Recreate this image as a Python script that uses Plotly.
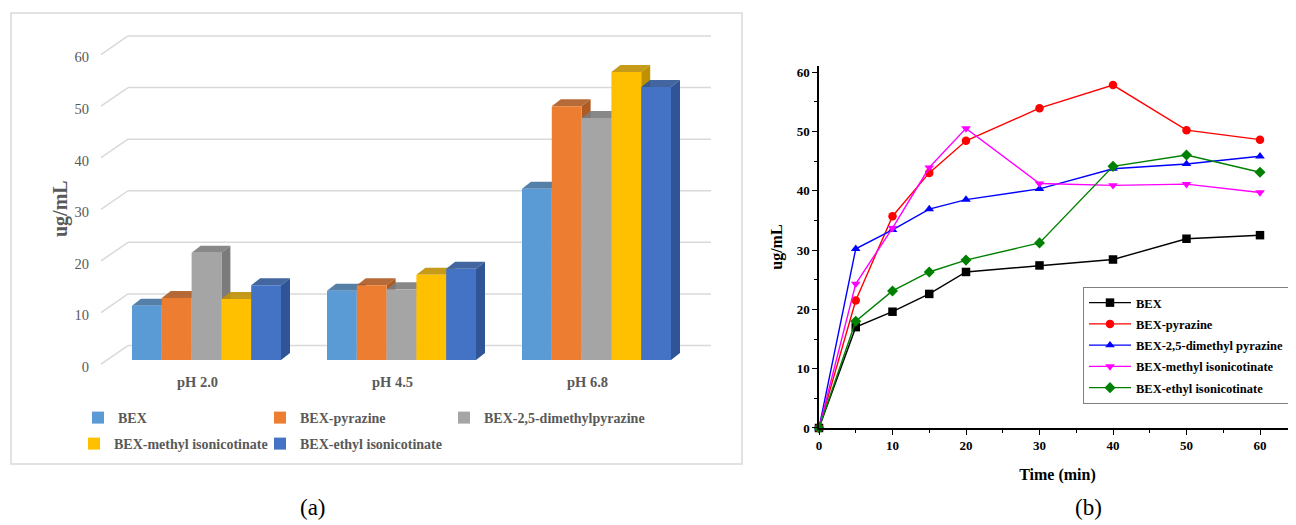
import plotly.graph_objects as go

# ---------------- data ----------------
ph_levels = ["pH 2.0", "pH 4.5", "pH 6.8"]
bar_series = ["BEX", "BEX-pyrazine", "BEX-2,5-dimethylpyrazine",
              "BEX-methyl isonicotinate", "BEX-ethyl isonicotinate"]
bex_ph = [10.5, 13.4, 33.2]
pyrazine_ph = [12.0, 14.5, 49.2]
dimethyl_ph = [20.8, 13.7, 46.9]
methyl_ph = [11.8, 16.5, 55.8]
ethyl_ph = [14.5, 17.7, 52.9]
bar_values = [bex_ph, pyrazine_ph, dimethyl_ph, methyl_ph, ethyl_ph]

time_min = [0, 5, 10, 15, 20, 30, 40, 50, 60]
line_series = ["BEX", "BEX-pyrazine", "BEX-2,5-dimethyl pyrazine",
               "BEX-methyl isonicotinate", "BEX-ethyl isonicotinate"]
bex_t = [0, 17.0, 19.6, 22.6, 26.3, 27.4, 28.4, 31.9, 32.5]
pyrazine_t = [0, 21.5, 35.7, 43.0, 48.4, 53.9, 57.8, 50.2, 48.6]
dimethyl_t = [0, 30.2, 33.4, 36.9, 38.5, 40.3, 43.7, 44.5, 45.8]
methyl_t = [0, 24.3, 33.7, 43.9, 50.5, 41.2, 40.9, 41.1, 39.7]
ethyl_t = [0, 18.0, 23.1, 26.3, 28.3, 31.2, 44.1, 46.0, 43.1]
line_values = [bex_t, pyrazine_t, dimethyl_t, methyl_t, ethyl_t]

y_ticks = [0, 10, 20, 30, 40, 50, 60]
x_ticks_time = [0, 10, 20, 30, 40, 50, 60]
x_minor = [5, 15, 25, 35, 45, 55]

# ---------------- styles / layout constants ----------------
PAGE_OFF = 8                      # default body margin of the html page
W, H = 1296 - PAGE_OFF, 525 - PAGE_OFF
bar_colors = ["#5B9BD5", "#ED7D31", "#A5A5A5", "#FFC000", "#4472C4"]
bar_dark = ["#41719C", "#AE5A21", "#7B7B7B", "#BF9000", "#2F5597"]
line_colors = ["#000000", "#FF0000", "#0000FF", "#FF00FF", "#008000"]
line_symbols = ["square", "circle", "triangle-up", "triangle-down", "diamond"]
SERIF = "Liberation Serif"
GREY = "#595959"


def px_x(p):
    """page pixel -> paper fraction"""
    return (p - PAGE_OFF) / W


def px_y(p):
    return (H - (p - PAGE_OFF)) / H


# left panel geometry (page pixels)
cat0_px, cat_step_px = 206.5, 195.0
y0_px, y_unit_px = 360.0, 5.16
lx_range = [(95 - cat0_px) / cat_step_px, (715 - cat0_px) / cat_step_px]
ly_range = [-1.5, 63.5]
ldom_x = [px_x(95), px_x(715)]
ldom_y = [px_y(y0_px - ly_range[0] * y_unit_px), px_y(y0_px - ly_range[1] * y_unit_px)]

bar_w = 29.8 / cat_step_px
depth_dx = 9.0 / cat_step_px
depth_dy = 7.0 / y_unit_px
grid_dy = 2.8
diag_x0 = (101 - cat0_px) / cat_step_px
grid_x0 = (128 - cat0_px) / cat_step_px
grid_x1 = (711 - cat0_px) / cat_step_px

# left legend entry placement (page pixels of text start, row centre)
leg_text_x = [118, 300, 484, 114, 300]
leg_row_y = [418, 418, 418, 444, 444]

# right panel geometry
r_x0_px, r_unit_x = 819.0, 441.0 / 60
r_y0_px, r_unit_y = 428.0, 5.933
rx_range = [0, (W + PAGE_OFF - r_x0_px) / r_unit_x]
ry_range = [0, 61]
rdom_x = [px_x(r_x0_px), 1.0]
rdom_y = [px_y(r_y0_px), px_y(r_y0_px - ry_range[1] * r_unit_y)]

fig = go.Figure()

# ---------------- left: bars ----------------
cat_pos = list(range(len(ph_levels)))
n = len(bar_series)
left_legend_names = ["legend", "legend3", "legend4", "legend5", "legend6"]
for i, (name, vals) in enumerate(zip(bar_series, bar_values)):
    off = -n * bar_w / 2 + i * bar_w
    fig.add_trace(go.Bar(
        x=cat_pos, y=vals, name=name, width=bar_w, offset=off,
        marker=dict(color=bar_colors[i], line=dict(width=0)),
        xaxis="x", yaxis="y", legend=left_legend_names[i],
    ))

shapes = []
# back-wall gridlines with their perspective stubs
for v in y_ticks:
    shapes.append(dict(type="line", xref="x", yref="y", layer="below",
                       x0=diag_x0, y0=v - 0.8, x1=grid_x0, y1=v + grid_dy,
                       line=dict(color="#D9D9D9", width=1.5)))
    shapes.append(dict(type="line", xref="x", yref="y", layer="below",
                       x0=grid_x0, y0=v + grid_dy, x1=grid_x1, y1=v + grid_dy,
                       line=dict(color="#D9D9D9", width=1.5)))
# 3D caps and side faces of the bars
for i, vals in enumerate(bar_values):
    off = -n * bar_w / 2 + i * bar_w
    for c, v in zip(cat_pos, vals):
        a = c + off
        b = a + bar_w
        cap = (f"M{a},{v} L{a + depth_dx},{v + depth_dy} "
               f"L{b + depth_dx},{v + depth_dy} L{b},{v} Z")
        side = (f"M{b},0 L{b + depth_dx},{depth_dy} "
                f"L{b + depth_dx},{v + depth_dy} L{b},{v} Z")
        shapes.append(dict(type="path", xref="x", yref="y", layer="below",
                           path=side, fillcolor=bar_dark[i], line=dict(width=0)))
        shapes.append(dict(type="path", xref="x", yref="y", layer="below",
                           path=cap, fillcolor=bar_dark[i], line=dict(width=0),
                           opacity=0.9))
# left panel frame
shapes.append(dict(type="rect", xref="paper", yref="paper", layer="below",
                   x0=px_x(11), x1=px_x(742), y0=px_y(464), y1=px_y(13),
                   line=dict(color="#D9D9D9", width=1.5)))

# ---------------- right: lines ----------------
for i, (name, vals) in enumerate(zip(line_series, line_values)):
    fig.add_trace(go.Scatter(
        x=time_min, y=vals, name=name, mode="lines+markers",
        line=dict(color=line_colors[i], width=1.4),
        marker=dict(symbol=line_symbols[i], size=8.5, color=line_colors[i]),
        cliponaxis=False, xaxis="x2", yaxis="y2", legend="legend2",
        legendgroup=f"g{i}",
    ))

tick_font_r = dict(family=SERIF, size=13, color="#000000", weight="bold")
title_font_r = dict(family=SERIF, size=16, color="#000000", weight="bold")
left_legend_font = dict(family=SERIF, size=14, color=GREY, weight="bold")

layout_legends = {}
for i, lname in enumerate(left_legend_names):
    layout_legends[lname] = dict(
        orientation="h", x=px_x(leg_text_x[i] - 40), y=px_y(leg_row_y[i]),
        xanchor="left", yanchor="middle", font=left_legend_font,
        bgcolor="rgba(0,0,0,0)", borderwidth=0)

fig.update_layout(
    width=W, height=H,
    margin=dict(l=0, r=0, t=0, b=0),
    paper_bgcolor="white", plot_bgcolor="rgba(0,0,0,0)",
    shapes=shapes,
    showlegend=True,
    barmode="overlay",
    xaxis=dict(domain=ldom_x, range=lx_range, tickvals=cat_pos, ticktext=ph_levels,
               showgrid=False, zeroline=False, showline=False, ticks="",
               tickfont=dict(family=SERIF, size=14.5, color=GREY, weight="bold"),
               ticklabelstandoff=4, ticklabelshift=-9, automargin=False, fixedrange=True),
    yaxis=dict(domain=ldom_y, range=ly_range, tickvals=y_ticks,
               showgrid=False, zeroline=False, showline=False, ticks="",
               tickfont=dict(family=SERIF, size=14.5, color=GREY),
               ticklabelstandoff=5, ticklabelshift=7, automargin=False, fixedrange=True),
    xaxis2=dict(domain=rdom_x, range=rx_range, anchor="y2",
                tickvals=x_ticks_time,
                showgrid=False, zeroline=False, showline=True, linecolor="#000000",
                linewidth=1.5, ticks="outside", ticklen=5, tickwidth=1.3,
                tickcolor="#000000", tickfont=tick_font_r,
                minor=dict(tickvals=x_minor, ticks="outside",
                           ticklen=3, tickwidth=1.3, tickcolor="#000000"),
                title=dict(text="Time (min)", standoff=16, font=title_font_r),
                automargin=False, fixedrange=True),
    yaxis2=dict(domain=rdom_y, range=ry_range, anchor="x2",
                tickvals=y_ticks,
                showgrid=False, zeroline=False, showline=True, linecolor="#000000",
                linewidth=1.5, ticks="outside", ticklen=5, tickwidth=1.3,
                tickcolor="#000000", tickfont=tick_font_r,
                minor=dict(tickvals=x_minor, ticks="outside",
                           ticklen=3, tickwidth=1.3, tickcolor="#000000"),
                title=dict(text="ug/mL", standoff=10, font=title_font_r),
                automargin=False, fixedrange=True),
    legend2=dict(orientation="v", x=px_x(1083), y=px_y(287), xanchor="left", yanchor="top",
                 font=dict(family=SERIF, size=12.5, color="#000000", weight="bold"),
                 bgcolor="white", bordercolor="#808080", borderwidth=1,
                 itemwidth=42, tracegroupgap=2),
    annotations=[
        dict(text="ug/mL", xref="paper", yref="paper", x=px_x(60), y=px_y(209),
             xanchor="center", yanchor="middle", textangle=-90, showarrow=False,
             font=dict(family=SERIF, size=20, color=GREY, weight="bold")),
        dict(text="(a)", xref="paper", yref="paper", x=px_x(313), y=px_y(507),
             xanchor="center", yanchor="middle",
             showarrow=False, font=dict(family=SERIF, size=23, color="#000000")),
        dict(text="(b)", xref="paper", yref="paper", x=px_x(1088), y=px_y(507),
             xanchor="center", yanchor="middle",
             showarrow=False, font=dict(family=SERIF, size=23, color="#000000")),
    ],
    **layout_legends,
)

fig.write_html("out.html")
